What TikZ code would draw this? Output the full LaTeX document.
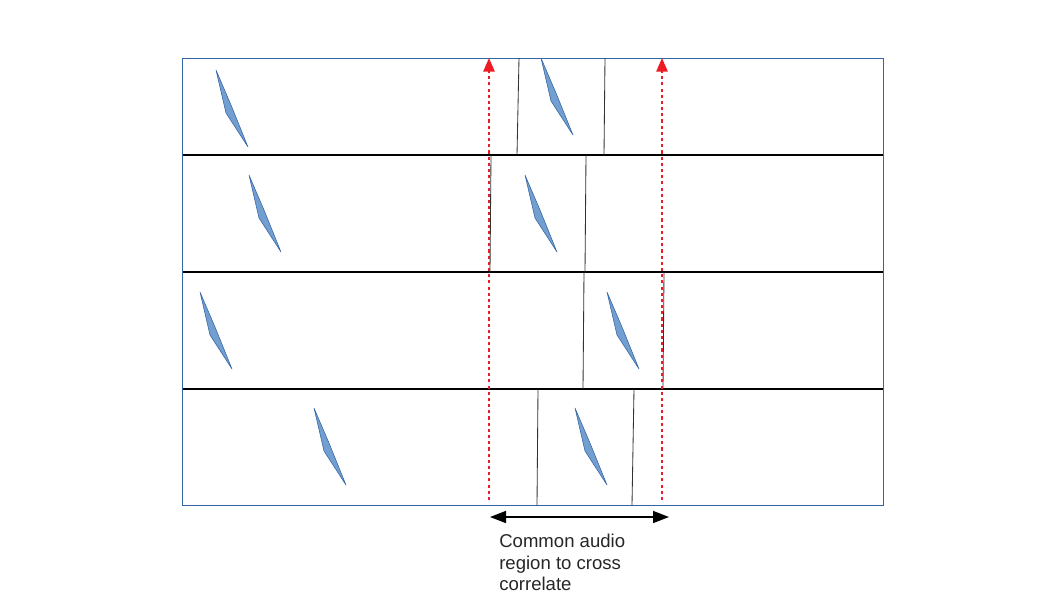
\documentclass[tikz,border=0pt]{standalone}
\usepackage{fontspec}
\setmainfont{Liberation Sans}
\usetikzlibrary{arrows.meta}

\definecolor{frameblue}{RGB}{52,101,164}
\definecolor{bladeblue}{RGB}{114,159,207}
\definecolor{markred}{RGB}{237,28,36}

\begin{document}
\begin{tikzpicture}[x=0.025cm, y=-0.025cm,
	every node/.style={font=\fontsize{13.2}{15.2}\selectfont},
	blade/.style={fill=bladeblue, draw=frameblue, line width=0.4pt, line join=round},
	offset/.style={draw=black!80, line width=0.6pt},
	marker/.style={draw=markred, line width=1.4pt, dash pattern=on 2.2pt off 2.2pt, -{Triangle[length=3.4mm, width=2.8mm, fill=markred]}},
	span/.style={draw=black, line width=1.1pt, {Triangle[length=4mm, width=3mm]}-{Triangle[length=4mm, width=3mm]}}]
	\useasboundingbox (0,0) rectangle (1058,595);

	% tracks
	\draw[black, line width=0.9pt] (182,155) -- (883,155) (182,272) -- (883,272) (182,389) -- (883,389);
	\draw[frameblue, line width=0.6pt] (182,58) rectangle (883,505);

	% audio events
	\foreach \x/\y in {216/70, 541/58, 249/175, 525/175, 200/292, 607/292, 314/408, 575/408}
		{\fill[blade] (\x,\y) -- ++(15,35) -- ++(17,42) -- ++(-22,-34) -- cycle;}

	% offsets in each track
	\foreach \a/\b/\t/\u in {519/517/58/155, 605/604/58/155, 491/490/155/272, 586/585/155/272,
		584/583/272/389, 664/663/272/389, 538/537/389/505, 634/632/389/505}
		{\draw[offset] (\a,\t) -- (\b,\u);}

	% common region
	\coordinate (lowA) at (489,500);
	\coordinate (topA) at (489,58);
	\coordinate (lowB) at (662,500);
	\coordinate (topB) at (662,58);
	\draw[marker] (lowA) -- (topA);
	\draw[marker] (lowB) -- (topB);

	\coordinate (spanL) at (490,517);
	\coordinate (spanR) at (669,517);
	\draw[span] (spanL) -- (spanR);
	\node[anchor=north west, inner sep=0pt, align=left, text=black!85] (caption) at (499,534)
		{Common audio\\region to cross\\correlate};
\end{tikzpicture}
\end{document}
